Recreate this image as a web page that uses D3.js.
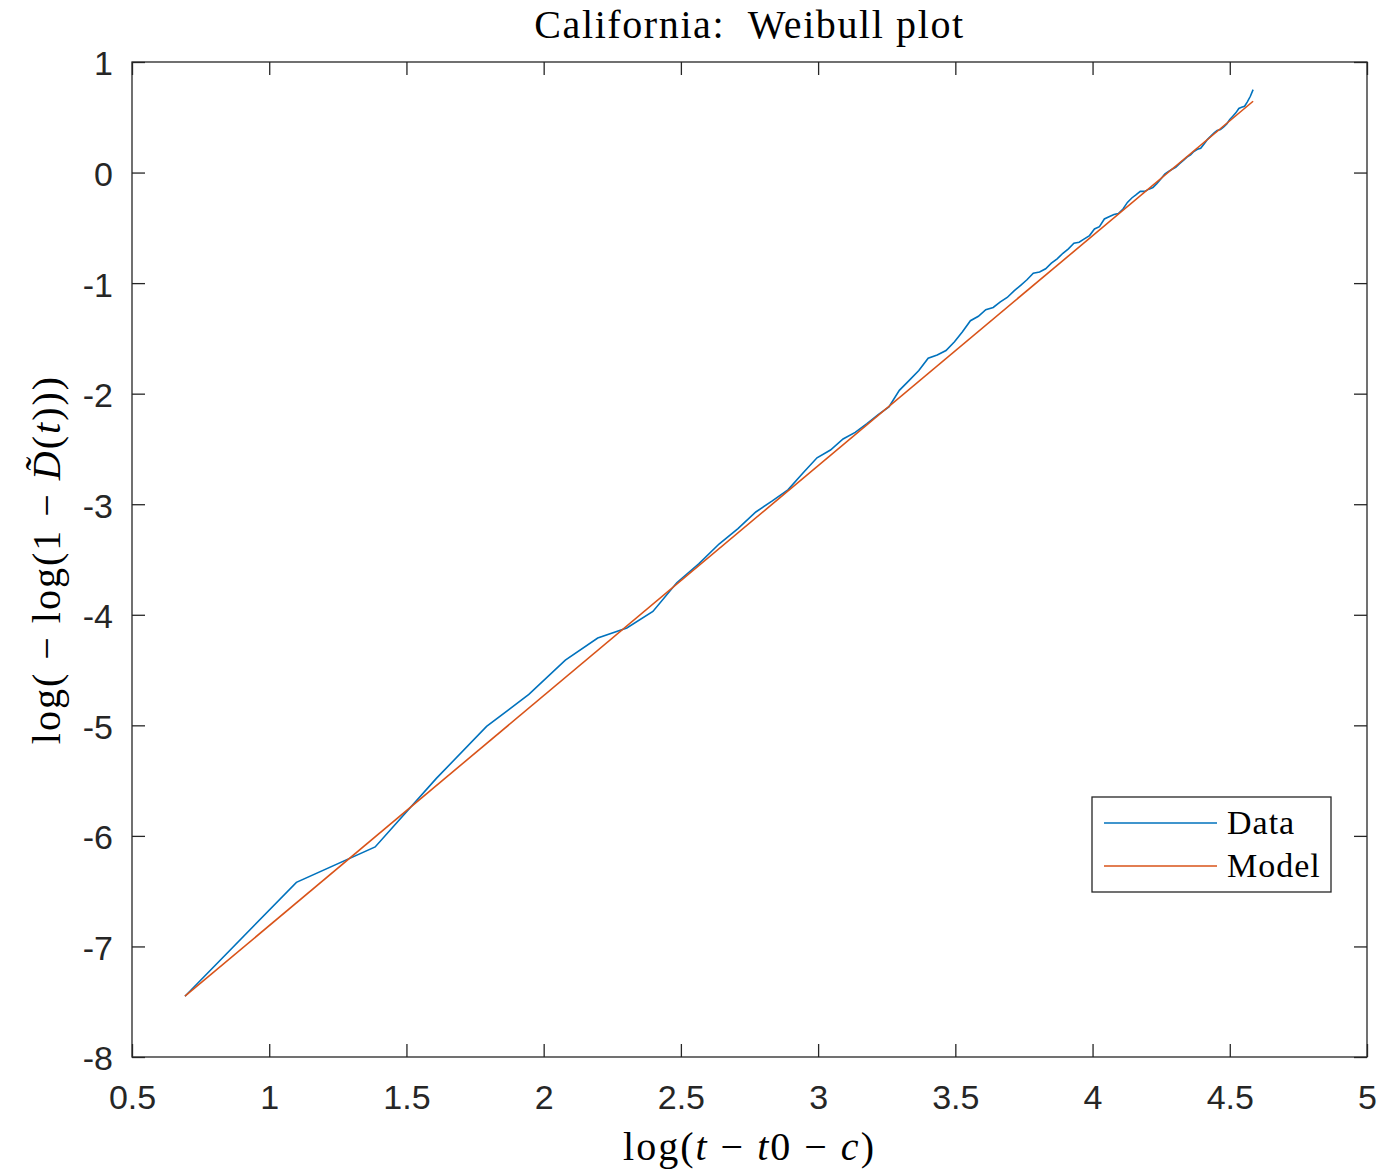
<!DOCTYPE html>
<html>
<head>
<meta charset="utf-8">
<script src="https://cdn.jsdelivr.net/npm/d3@7"></script>
<style>
  body { margin: 0; background: #fff; }
  .tick text { font-family: "Liberation Sans", Arial, sans-serif; font-size: 34px; fill: #262626; }
  .math { font-family: "Liberation Serif", "DejaVu Serif", serif; fill: #000; }
</style>
</head>
<body>
<div id="chart"></div>
<script>
//chart data
const logT = [0.693, 1.099, 1.386, 1.609, 1.792, 1.946, 2.079, 2.197, 2.303, 2.398,
  2.485, 2.565, 2.639, 2.708, 2.773, 2.833, 2.890, 2.944, 2.996, 3.045,
  3.091, 3.135, 3.178, 3.219, 3.258, 3.296, 3.332, 3.367, 3.401, 3.434,
  3.466, 3.497, 3.526, 3.555, 3.584, 3.611, 3.638, 3.664, 3.689, 3.714,
  3.738, 3.761, 3.784, 3.807, 3.829, 3.850, 3.871, 3.892, 3.912, 3.932,
  3.951, 3.970, 3.989, 4.007, 4.025, 4.043, 4.060, 4.078, 4.094, 4.111,
  4.127, 4.143, 4.159, 4.174, 4.190, 4.205, 4.220, 4.234, 4.248, 4.263,
  4.277, 4.290, 4.304, 4.317, 4.331, 4.344, 4.357, 4.369, 4.382, 4.394,
  4.407, 4.419, 4.431, 4.443, 4.454, 4.466, 4.477, 4.489, 4.500, 4.511,
  4.522, 4.533, 4.543, 4.554, 4.564, 4.575, 4.585];
const dataY = [-7.45, -6.42, -6.10, -5.48, -5.01, -4.72, -4.41, -4.21, -4.12, -3.97,
  -3.71, -3.54, -3.36, -3.22, -3.07, -2.97, -2.87, -2.72, -2.58, -2.51,
  -2.41, -2.35, -2.27, -2.19, -2.12, -1.97, -1.88, -1.79, -1.68, -1.65,
  -1.61, -1.53, -1.44, -1.34, -1.30, -1.24, -1.22, -1.17, -1.13, -1.07,
  -1.02, -0.97, -0.91, -0.90, -0.87, -0.82, -0.78, -0.73, -0.69, -0.64,
  -0.63, -0.60, -0.57, -0.51, -0.49, -0.42, -0.40, -0.38, -0.37, -0.33,
  -0.27, -0.23, -0.20, -0.17, -0.17, -0.15, -0.135, -0.10, -0.06, -0.015,
  0.01, 0.03, 0.05, 0.08, 0.11, 0.14, 0.16, 0.19, 0.21, 0.22,
  0.26, 0.30, 0.33, 0.36, 0.38, 0.39, 0.41, 0.44, 0.48, 0.51,
  0.54, 0.58, 0.59, 0.60, 0.64, 0.69, 0.75];
//model is a straight line, two end points
const modelX = [0.693, 4.585];
const modelY = [-7.45, 0.645];

const xTicks = [0.5, 1, 1.5, 2, 2.5, 3, 3.5, 4, 4.5, 5];
const yTicks = [1, 0, -1, -2, -3, -4, -5, -6, -7, -8];
const seriesNames = ["Data", "Model"];
const seriesColors = ["#0072BD", "#D95319"];

//size of the page & the axes box
const width = 1380;
const height = 1171;
const boxLeft = 132, boxRight = 1367, boxTop = 62, boxBottom = 1057;

const svg = d3.select("#chart").append("svg")
  .attr("width", width)
  .attr("height", height);

//Scales setup
const x = d3.scaleLinear().domain([0.5, 5]).range([boxLeft, boxRight]);
const y = d3.scaleLinear().domain([-8, 1]).range([boxBottom, boxTop]);

//Axes, ticks point inward like matlab
const tickLen = 13;
const axisColor = "#262626";
const fmt = (d) => String(d); //plain hyphen for negatives

function styleAxis(g) {
  g.select(".domain").remove();
  g.selectAll(".tick line").attr("stroke", axisColor).attr("stroke-width", 1.3);
}

svg.append("g")
  .attr("transform", `translate(0,${boxBottom})`)
  .call(d3.axisBottom(x).tickValues(xTicks).tickSizeInner(-tickLen).tickSizeOuter(0).tickPadding(28).tickFormat(fmt))
  .call(styleAxis);

svg.append("g")
  .attr("transform", `translate(0,${boxTop})`)
  .call(d3.axisTop(x).tickValues(xTicks).tickSizeInner(-tickLen).tickSizeOuter(0).tickFormat(""))
  .call(styleAxis);

svg.append("g")
  .attr("transform", `translate(${boxLeft},0)`)
  .call(d3.axisLeft(y).tickValues(yTicks).tickSizeInner(-tickLen).tickSizeOuter(0).tickPadding(19).tickFormat(fmt))
  .call(styleAxis)
  .call((g) => g.selectAll(".tick text").attr("dy", "0.38em"));

svg.append("g")
  .attr("transform", `translate(${boxRight},0)`)
  .call(d3.axisRight(y).tickValues(yTicks).tickSizeInner(-tickLen).tickSizeOuter(0).tickFormat(""))
  .call(styleAxis);

//box around the plot
svg.append("rect")
  .attr("x", boxLeft).attr("y", boxTop)
  .attr("width", boxRight - boxLeft).attr("height", boxBottom - boxTop)
  .attr("fill", "none")
  .attr("stroke", axisColor)
  .attr("stroke-width", 1.3);

//Lines
const line = d3.line().x((d) => x(d[0])).y((d) => y(d[1]));

svg.append("path")
  .datum(logT.map((t, i) => [t, dataY[i]]))
  .attr("d", line)
  .attr("fill", "none")
  .attr("stroke", seriesColors[0])
  .attr("stroke-width", 1.6);

svg.append("path")
  .datum(modelX.map((t, i) => [t, modelY[i]]))
  .attr("d", line)
  .attr("fill", "none")
  .attr("stroke", seriesColors[1])
  .attr("stroke-width", 1.6);

//Title
svg.append("text")
  .attr("class", "math")
  .attr("x", (boxLeft + boxRight) / 2)
  .attr("y", 38)
  .attr("text-anchor", "middle")
  .style("font-size", "40px")
  .style("letter-spacing", "1.6px")
  .style("white-space", "pre")
  .text("California:  Weibull plot");

//x label
const xl = svg.append("text")
  .attr("class", "math")
  .attr("x", (boxLeft + boxRight) / 2)
  .attr("y", 1160)
  .attr("text-anchor", "middle")
  .style("font-size", "40px")
  .style("letter-spacing", "2px")
  .style("white-space", "pre");
xl.append("tspan").text("log(");
xl.append("tspan").style("font-style", "italic").text("t");
xl.append("tspan").text(" − ");
xl.append("tspan").style("font-style", "italic").text("t");
xl.append("tspan").text("0 − ");
xl.append("tspan").style("font-style", "italic").text("c");
xl.append("tspan").text(")");

//y label
const yl = svg.append("text")
  .attr("class", "math")
  .attr("transform", `translate(60,${(boxTop + boxBottom) / 2}) rotate(-90)`)
  .attr("text-anchor", "middle")
  .style("font-size", "40px")
  .style("letter-spacing", "2px")
  .style("white-space", "pre");
yl.append("tspan").text("log( − log(1 − ");
yl.append("tspan").style("font-style", "italic").text("D\u0303");
yl.append("tspan").text("(");
yl.append("tspan").style("font-style", "italic").text("t");
yl.append("tspan").text(")))");

//Legend
const legend = svg.append("g");
legend.append("rect")
  .attr("x", 1092).attr("y", 797)
  .attr("width", 239).attr("height", 95)
  .attr("fill", "#fff")
  .attr("stroke", axisColor)
  .attr("stroke-width", 1.3);

seriesNames.forEach((name, i) => {
  const ly = 823 + i * 43;
  legend.append("line")
    .attr("x1", 1104).attr("x2", 1217)
    .attr("y1", ly).attr("y2", ly)
    .attr("stroke", seriesColors[i])
    .attr("stroke-width", 1.6);
  legend.append("text")
    .attr("class", "math")
    .attr("x", 1227).attr("y", ly + 11)
    .style("font-size", "34px")
    .style("letter-spacing", "1px")
    .text(name);
});
</script>
</body>
</html>
